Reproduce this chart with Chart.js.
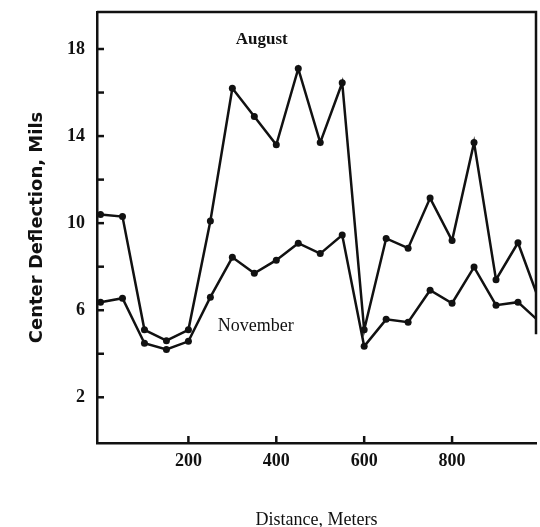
<!DOCTYPE html>
<html>
<head>
<meta charset="utf-8">
<script src="https://cdn.jsdelivr.net/npm/chart.js@4.4.1/dist/chart.umd.min.js"></script>
<style>
    html, body { margin: 0; padding: 0; background: #fff; }
    #wrap { width: 540px; height: 527px; }
</style>
</head>
<body>
<div id="wrap"><canvas id="chart" width="540" height="527"></canvas></div>
<script>
// Distance along the section (m) and centre deflection (mils)
const distance = [0, 50, 100, 150, 200, 250, 300, 350, 400, 450, 500,
                  550, 600, 650, 700, 750, 800, 850, 900, 950, 1000];
const august = [10.4, 10.3, 5.1, 4.6, 5.1, 10.1, 16.2, 14.9, 13.6, 17.1, 13.7,
                16.45, 5.1, 9.3, 8.85, 11.15, 9.2, 13.7, 7.4, 9.1, 6.35];
const november = [6.37, 6.55, 4.48, 4.2, 4.57, 6.6, 8.43, 7.7, 8.3, 9.08, 8.6,
                  9.45, 4.34, 5.58, 5.45, 6.92, 6.32, 7.98, 6.23, 6.37, 5.45];
const yTicks = [2, 4, 6, 8, 10, 12, 14, 16, 18];
const yLabelled = [2, 6, 10, 14, 18];
const xTicks = [200, 400, 600, 800];

const toPoints = (xs, ys) => xs.map((x, i) => ({ x: x, y: ys[i] }));

const INK = '#111';

/**
 * Inward tick marks, top/right frame and the series captions
 */
const paperFrame = {
    id: 'paperFrame',
    afterDatasetsDraw(chart) {
        const { ctx, chartArea: a, scales: { x, y } } = chart;
        ctx.save();
        ctx.strokeStyle = INK;
        ctx.lineWidth = 2.5;
        ctx.lineCap = 'butt';

        // tick marks pointing into the plot
        y.ticks.forEach(t => {
            const py = y.getPixelForValue(t.value);
            ctx.beginPath();
            ctx.moveTo(a.left, py);
            ctx.lineTo(a.left + 7, py);
            ctx.stroke();
        });
        x.ticks.forEach(t => {
            const px = x.getPixelForValue(t.value);
            ctx.beginPath();
            ctx.moveTo(px, a.bottom);
            ctx.lineTo(px, a.bottom - 7);
            ctx.stroke();
        });

        // top edge and the (partly printed) right edge
        ctx.beginPath();
        ctx.moveTo(a.left, a.top);
        ctx.lineTo(a.right, a.top);
        ctx.lineTo(a.right, y.getPixelForValue(4.9));
        ctx.stroke();

        // captions
        ctx.fillStyle = INK;
        ctx.textAlign = 'center';
        ctx.textBaseline = 'middle';
        ctx.font = 'bold 17px "Liberation Serif"';
        ctx.fillText('August', x.getPixelForValue(367), y.getPixelForValue(18.45));
        ctx.font = '18px "Liberation Serif"';
        ctx.fillText('November', x.getPixelForValue(353), y.getPixelForValue(5.25));
        ctx.restore();
    }
};

const lineStyle = {
    borderColor: INK,
    backgroundColor: INK,
    borderWidth: 2.5,
    pointRadius: 3.5,
    pointBackgroundColor: INK,
    pointBorderWidth: 0,
    tension: 0,
    fill: false
};

new Chart(document.getElementById('chart'), {
    type: 'line',
    data: {
        datasets: [
            Object.assign({ label: 'August', data: toPoints(distance, august) }, lineStyle),
            Object.assign({ label: 'November', data: toPoints(distance, november) }, lineStyle)
        ]
    },
    options: {
        responsive: false,
        animation: false,
        devicePixelRatio: 1,
        layout: { padding: { top: 12, right: 3, left: 0, bottom: 0 } },
        plugins: {
            legend: { display: false },
            tooltip: { enabled: false }
        },
        scales: {
            x: {
                type: 'linear',
                min: -8,
                max: 991,
                afterBuildTicks(scale) {
                    scale.ticks = xTicks.map(v => ({ value: v }));
                },
                afterFit(scale) {
                    scale.height = 84;
                    scale.paddingLeft = 0;
                    scale.paddingRight = 0;
                },
                border: { color: INK, width: 2.5 },
                grid: { drawOnChartArea: false, drawTicks: false },
                ticks: {
                    padding: 8,
                    color: INK,
                    maxRotation: 0,
                    autoSkip: false,
                    font: { family: '"Liberation Serif"', size: 18, weight: 'bold' },
                    callback: v => String(v)
                },
                title: {
                    display: true,
                    text: 'Distance, Meters',
                    color: INK,
                    padding: 0,
                    font: { family: '"Liberation Serif"', size: 18, lineHeight: 0.7 }
                }
            },
            y: {
                min: -0.1,
                max: 19.7,
                afterBuildTicks(scale) {
                    scale.ticks = yTicks.map(v => ({ value: v }));
                },
                afterFit(scale) {
                    scale.width = 97;
                    scale.paddingTop = 0;
                    scale.paddingBottom = 0;
                },
                border: { color: INK, width: 2.5 },
                grid: { drawOnChartArea: false, drawTicks: false },
                ticks: {
                    padding: 12,
                    color: INK,
                    autoSkip: false,
                    font: { family: '"Liberation Serif"', size: 18, weight: 'bold' },
                    callback: v => yLabelled.includes(v) ? String(v) : ''
                },
                title: {
                    display: true,
                    text: 'Center Deflection, Mils',
                    color: INK,
                    padding: { top: 27, bottom: 0 },
                    font: { family: '"DejaVu Sans"', size: 18, weight: 'bold' }
                }
            }
        }
    },
    plugins: [paperFrame]
});
</script>
</body>
</html>
